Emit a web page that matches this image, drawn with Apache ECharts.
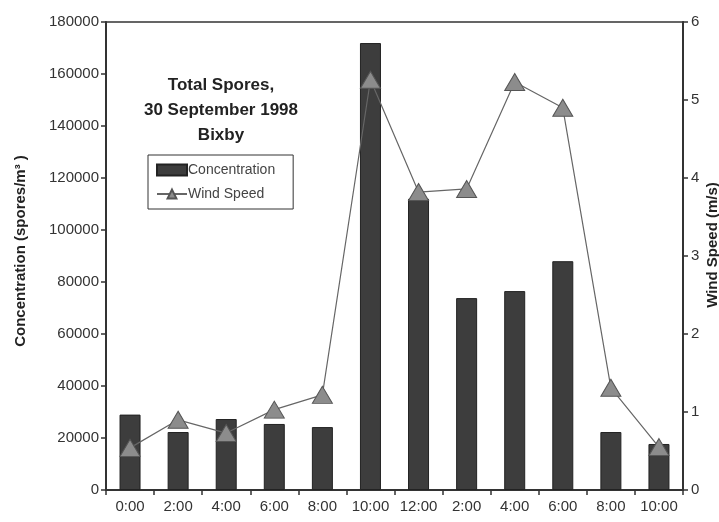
<!DOCTYPE html>
<html>
<head>
<meta charset="utf-8">
<script src="https://cdn.jsdelivr.net/npm/echarts@6/dist/echarts.min.js"></script>
<style>html,body{margin:0;padding:0;background:#fff;}#c{width:719px;height:522px;}</style>
</head>
<body>
<div id="c"></div>
<script>
const categories = ['0:00','2:00','4:00','6:00','8:00','10:00','12:00','2:00','4:00','6:00','8:00','10:00'];
const concentration = [29000, 22300, 27300, 25400, 24200, 171900, 112000, 73800, 76500, 88000, 22300, 17700];
const windSpeed = [0.54, 0.90, 0.73, 1.03, 1.22, 5.26, 3.82, 3.86, 5.23, 4.90, 1.31, 0.55];
const titleLines = ['Total Spores,', '30 September 1998', 'Bixby'];

const chart = echarts.init(document.getElementById('c'), null, {renderer: 'canvas'});
const font = 'Liberation Sans, Arial, sans-serif';
chart.setOption({
  animation: false,
  backgroundColor: '#fff',
  textStyle: {fontFamily: font},
  title: {
    text: titleLines.join('\n'),
    left: 216, top: 68, textAlign: 'center',
    textStyle: {fontFamily: font, fontWeight: 'bold', fontSize: 17, color: '#222', lineHeight: 25}
  },
  legend: {
    left: 148, top: 155, orient: 'vertical',
    padding: [8, 18, 8, 8], itemGap: 10,
    borderColor: '#333', borderWidth: 1,
    itemWidth: 30, itemHeight: 11,
    textStyle: {fontFamily: font, fontSize: 14, color: '#444', padding: [0, 0, 0, -4]},
    data: [
      {name: 'Concentration', icon: 'rect'},
      {name: 'Wind Speed'}
    ]
  },
  grid: {left: 106, right: 36, top: 22, bottom: 32, outerBoundsMode: 'none', containLabel: false,
         show: true, borderColor: '#333', borderWidth: 1.5},
  xAxis: {
    type: 'category', data: categories, boundaryGap: true,
    axisLine: {lineStyle: {color: '#333', width: 2}},
    axisTick: {show: true, length: 5, alignWithLabel: false, lineStyle: {color: '#333', width: 1.5}},
    axisLabel: {color: '#333', fontSize: 15, margin: 9, interval: 0, fontFamily: font}
  },
  yAxis: [
    {
      type: 'value', min: 0, max: 180000, interval: 20000,
      name: 'Concentration (spores/m³ )', nameLocation: 'middle', nameGap: 78, nameRotate: 90,
      nameMoveOverlap: false,
      nameTextStyle: {fontWeight: 'bold', fontSize: 15, color: '#222', fontFamily: font, padding: [0, 0, 0, 10]},
      axisLine: {show: true, lineStyle: {color: '#333', width: 2}},
      axisTick: {show: true, length: 5, lineStyle: {color: '#333', width: 1.5}},
      axisLabel: {color: '#333', fontSize: 15, margin: 7, fontFamily: font, formatter: v => String(v)},
      splitLine: {show: false}
    },
    {
      type: 'value', min: 0, max: 6, interval: 1, position: 'right',
      name: 'Wind Speed (m/s)', nameLocation: 'middle', nameGap: 22, nameRotate: 90,
      nameMoveOverlap: false,
      nameTextStyle: {fontWeight: 'bold', fontSize: 15, color: '#222', fontFamily: font, padding: [0, 0, 0, 22]},
      axisLine: {show: true, lineStyle: {color: '#333', width: 2}},
      axisTick: {show: true, length: 5, lineStyle: {color: '#333', width: 1.5}},
      axisLabel: {color: '#333', fontSize: 15, margin: 8, fontFamily: font},
      splitLine: {show: false}
    }
  ],
  series: [
    {
      name: 'Concentration', type: 'bar', yAxisIndex: 0, data: concentration,
      barWidth: 21,
      itemStyle: {color: '#3d3d3d', borderColor: '#222', borderWidth: 1}
    },
    {
      name: 'Wind Speed', type: 'line', yAxisIndex: 1, data: windSpeed,
      symbol: 'triangle', symbolSize: [20, 17],
      lineStyle: {color: '#666', width: 1.2},
      itemStyle: {color: '#8c8c8c', borderColor: '#555', borderWidth: 1}
    }
  ]
});
</script>
</body>
</html>
